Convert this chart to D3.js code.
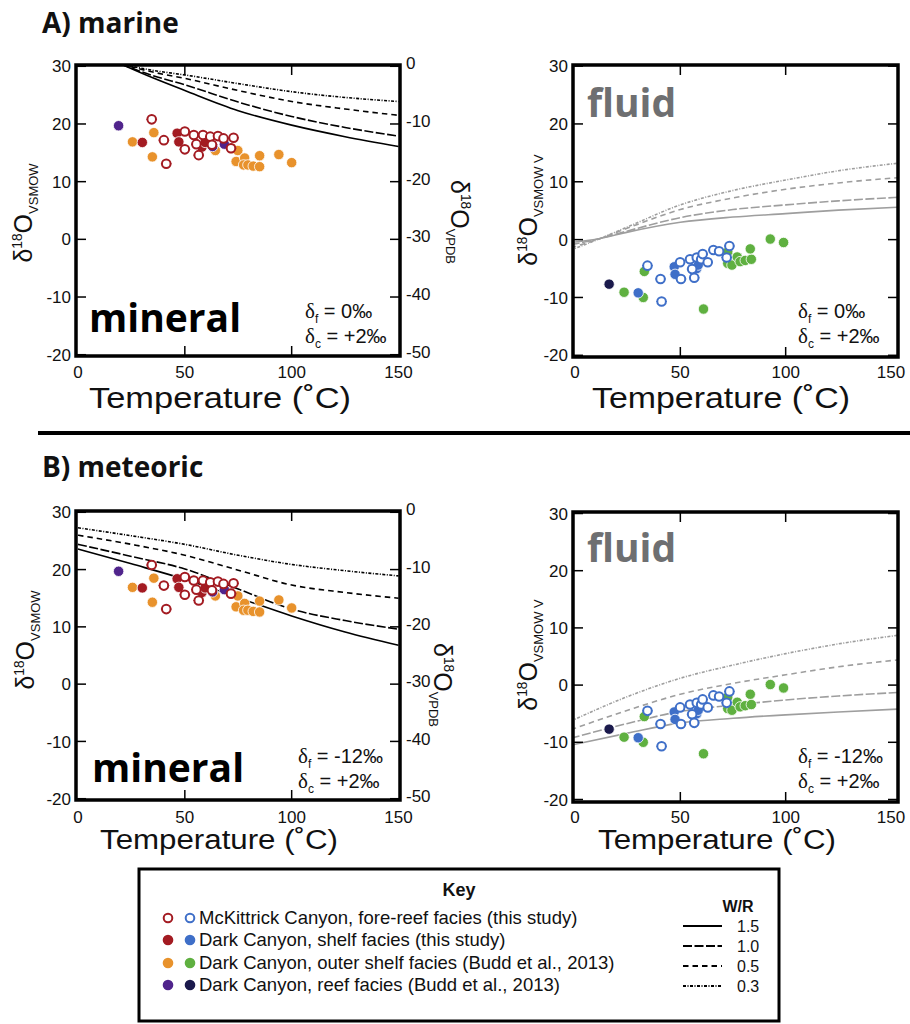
<!DOCTYPE html>
<html><head><meta charset="utf-8">
<script src="https://cdn.jsdelivr.net/npm/d3@7"></script>
<style>body{margin:0;background:#fff} svg{display:block} text{font-family:"Liberation Sans",Arial,sans-serif;fill:#111}</style>
</head><body><svg id="c" width="910" height="1024"></svg>
<script>
// ---------- data ----------
const temperatureTicks = [0, 50, 100, 150];
const vsmowTicks = [-20, -10, 0, 10, 20, 30];
const vpdbTicks = [-50, -40, -30, -20, -10, 0];
const tempError = 2.5;

// mineral δ18O (VSMOW) vs temperature (°C)
const mineralMcKittrick = [[34.5,20.8],[40.2,17.2],[41.3,13.1],[50,18.7],[50,15.6],[54.2,18.1],[55.4,16.5],[56.5,14.6],[58.5,18.1],[61.9,17.8],[62.7,16.4],[65.5,17.9],[68.1,17.5],[71.6,15.8],[72.8,17.6]];
const mineralDarkShelf = [[30.1,16.8],[46.4,18.4],[47.2,16.9],[58,16.0],[59.5,16.8]];
const mineralOuterShelf = [[25.5,16.9],[35.5,18.5],[34.8,14.3],[64.3,15.4],[72,15.8],[74.8,15.4],[74,13.5],[78,14.1],[77.5,12.9],[79.5,12.9],[82,12.7],[85,14.5],[85,12.6],[94,14.7],[100,13.3]];
const mineralReef = [[19,19.7],[63,16.1],[68.5,16.5]];

// fluid δ18O (VSMOW) vs temperature (°C)
const fluidMcKittrick = [[34.4,-4.5],[40.6,-6.8],[41.1,-10.7],[49.9,-3.9],[50.3,-6.8],[54.6,-3.4],[55.6,-5.1],[56.6,-6.6],[57.8,-3.1],[59.9,-3.4],[60.6,-2.5],[63,-3.9],[65.7,-1.8],[68.4,-2.0],[72,-3.1],[73.3,-1.1]];
const fluidDarkShelf = [[30,-9.2],[47.1,-4.7],[47.5,-6.0],[57.8,-5.0],[58.5,-4.4]];
const fluidOuterShelf = [[23.3,-9.1],[32.9,-5.5],[32.4,-10.0],[61,-12.0],[72.5,-4.1],[72.5,-2.1],[74.5,-4.4],[77,-3.0],[78.4,-3.8],[80.8,-3.6],[83.7,-3.4],[83.2,-1.6],[92.7,0.1],[99,-0.5]];
const fluidReef = [[16.2,-7.7]];

// W/R model curves
const wrLabels = ["1.5", "1.0", "0.5", "0.3"];
const marineMineralWR15 = [[20,30.4],[35,28.0],[50,25.8],[75,22.3],[100,19.8],[125,17.8],[150,16.1]];
const marineMineralWR10 = [[20,30.4],[35,28.4],[50,26.8],[75,23.8],[100,21.3],[125,19.4],[150,17.9]];
const marineMineralWR05 = [[20,30.4],[35,29.0],[50,27.9],[75,25.8],[100,23.9],[125,22.6],[150,21.5]];
const marineMineralWR03 = [[20,30.4],[35,29.3],[50,28.5],[75,27.0],[100,25.6],[125,24.6],[150,23.9]];

const marineFluidWR15 = [[-2,-0.5],[12,0.2],[25,1.3],[50,3.0],[75,3.9],[100,4.5],[125,5.1],[153,5.6]];
const marineFluidWR10 = [[-2,-0.9],[12,0.2],[25,1.5],[50,3.8],[75,5.2],[100,6.0],[125,6.7],[153,7.3]];
const marineFluidWR05 = [[-2,-1.4],[12,0.2],[25,2.0],[50,5.2],[75,7.2],[100,8.7],[125,9.8],[153,10.7]];
const marineFluidWR03 = [[-2,-1.8],[12,0.2],[25,2.2],[50,6.0],[75,8.5],[100,10.3],[125,11.9],[153,13.2]];

const meteoricMineralWR15 = [[0,23.6],[25,21.0],[50,18.3],[75,15.1],[100,11.9],[125,9.1],[150,6.8]];
const meteoricMineralWR10 = [[0,24.4],[25,22.3],[50,20.1],[75,16.6],[100,13.1],[125,11.1],[150,9.6]];
const meteoricMineralWR05 = [[0,26.0],[25,24.4],[50,22.5],[75,19.9],[100,17.3],[125,16.0],[150,15.0]];
const meteoricMineralWR03 = [[0,27.3],[25,25.9],[50,24.4],[75,22.5],[100,20.9],[125,19.8],[150,18.9]];

const meteoricFluidWR15 = [[-2,-10.5],[25,-8.4],[50,-6.6],[75,-5.8],[100,-5.2],[125,-4.7],[153,-4.2]];
const meteoricFluidWR10 = [[-2,-9.3],[25,-6.7],[50,-4.6],[75,-3.5],[100,-2.6],[125,-1.9],[153,-1.3]];
const meteoricFluidWR05 = [[-2,-7.8],[25,-4.4],[50,-1.6],[75,0.3],[100,1.8],[125,3.2],[153,4.4]];
const meteoricFluidWR03 = [[-2,-6.3],[25,-2.0],[50,1.2],[75,3.5],[100,5.5],[125,7.2],[153,8.7]];

const legendLabels = ["McKittrick Canyon, fore-reef facies (this study)","Dark Canyon, shelf facies (this study)","Dark Canyon, outer shelf facies (Budd et al., 2013)","Dark Canyon, reef facies (Budd et al., 2013)"];

// ---------- styles ----------
const dashes = [null, "9,2.5", "5.5,4", "3,1.5,1,1.5"];
const mineralColors = {open:"#a31b22", shelf:"#a31b22", outer:"#e8922c", reef:"#50248c"};
const fluidColors = {open:"#3f6fc8", shelf:"#3f6fc8", outer:"#5fb040", reef:"#1b1a4c"};

const svg = d3.select("#c");

function sub(t, parts) {
  parts.forEach(p => {
    const ts = t.append("tspan").text(p.t).style("font-size", p.fs + "px");
    if (p.dy) ts.attr("dy", p.dy);
    if (p.ff) ts.style("font-family", p.ff);
  });
}

function panel(cfg) {
  const g = svg.append("g");
  const x = d3.scaleLinear().domain([0,150]).range([cfg.fx0 + 2, cfg.fx1 - cfg.xpad]);
  const y = d3.scaleLinear().domain([-20,30]).range([cfg.yb, cfg.yt]);
  const id = "clip" + cfg.id;
  g.append("clipPath").attr("id", id).append("rect")
    .attr("x", cfg.fx0).attr("y", cfg.fy0).attr("width", cfg.fx1 - cfg.fx0).attr("height", cfg.fy1 - cfg.fy0);
  const plot = g.append("g").attr("clip-path", `url(#${id})`);
  const line = d3.line().x(d => x(d[0])).y(d => y(d[1])).curve(d3.curveMonotoneX);
  cfg.curves.forEach((c, i) => {
    plot.append("path").attr("d", line(c)).attr("fill", "none")
      .attr("stroke", cfg.lineColor).attr("stroke-width", 1.6)
      .attr("stroke-dasharray", dashes[i]);
  });
  const pts = cfg.points;
  const col = cfg.colors;
  const filled = (data, c) => plot.selectAll(null).data(data).enter().append("circle")
    .attr("cx", d => x(d[0])).attr("cy", d => y(d[1])).attr("r", 5.2)
    .attr("fill", c).attr("stroke", "#fff").attr("stroke-width", 0.8);
  filled(pts.outer, col.outer);
  filled(pts.reef, col.reef);
  filled(pts.shelf, col.shelf);
  plot.selectAll(null).data(pts.open).enter().append("line")
    .attr("x1", d => x(d[0] - tempError)).attr("x2", d => x(d[0] + tempError))
    .attr("y1", d => y(d[1])).attr("y2", d => y(d[1]))
    .attr("stroke", col.open).attr("stroke-width", 1);
  plot.selectAll(null).data(pts.open).enter().append("circle")
    .attr("cx", d => x(d[0])).attr("cy", d => y(d[1])).attr("r", 4.3)
    .attr("fill", "#fff").attr("stroke", col.open).attr("stroke-width", 2);

  g.append("rect").attr("x", cfg.fx0).attr("y", cfg.fy0)
    .attr("width", cfg.fx1 - cfg.fx0).attr("height", cfg.fy1 - cfg.fy0)
    .attr("fill", "none").attr("stroke", "#000").attr("stroke-width", 3.5);
  const tl = 10;
  vsmowTicks.forEach(v => {
    g.append("line").attr("x1", cfg.fx0).attr("x2", cfg.fx0 + tl).attr("y1", y(v)).attr("y2", y(v)).attr("stroke", "#000").attr("stroke-width", 1.5);
    g.append("line").attr("x1", cfg.fx1).attr("x2", cfg.fx1 - tl).attr("y1", y(v)).attr("y2", y(v)).attr("stroke", "#000").attr("stroke-width", 1.5);
    g.append("text").attr("x", cfg.fx0 - 5).attr("y", y(v)).attr("dy", "0.36em")
      .attr("text-anchor", "end").style("font-size", "17px").text(v);
  });
  temperatureTicks.filter(t => t > 0 && t < 150).forEach(t => {
    g.append("line").attr("x1", x(t)).attr("x2", x(t)).attr("y1", cfg.fy0).attr("y2", cfg.fy0 + tl).attr("stroke", "#000").attr("stroke-width", 1.5);
    g.append("line").attr("x1", x(t)).attr("x2", x(t)).attr("y1", cfg.fy1).attr("y2", cfg.fy1 - tl).attr("stroke", "#000").attr("stroke-width", 1.5);
  });
  temperatureTicks.forEach(t => {
    g.append("text").attr("x", x(t)).attr("y", cfg.xLabY).attr("text-anchor", "middle")
      .style("font-size", "17px").text(t);
  });
  if (cfg.vpdb) {
    const y2 = d3.scaleLinear().domain([-50,0]).range([cfg.yb, cfg.yt]);
    vpdbTicks.forEach(v => {
      g.append("text").attr("x", cfg.fx1 + 6).attr("y", y2(v) - 3).attr("dy", "0.36em")
        .style("font-size", "17px").text(v);
    });
    const t = g.append("text").attr("transform", `translate(${cfg.rLab[0]},${cfg.rLab[1]}) rotate(90)`)
      .attr("text-anchor", "middle");
    sub(t, [{t:"δ", fs:cfg.labFs}, {t:"18", fs:cfg.labFs*0.55, dy:-cfg.labFs*0.4}, {t:"O", fs:cfg.labFs, dy:cfg.labFs*0.4}, {t:"VPDB", fs:cfg.labFs*0.52, dy:cfg.labFs*0.22}]);
  }
  const lt = g.append("text").attr("transform", `translate(${cfg.lLab[0]},${cfg.lLab[1]}) rotate(-90)`)
    .attr("text-anchor", "middle");
  sub(lt, [{t:"δ", fs:cfg.labFs}, {t:"18", fs:cfg.labFs*0.55, dy:-cfg.labFs*0.4}, {t:"O", fs:cfg.labFs, dy:cfg.labFs*0.4}, {t:cfg.vsmowSub, fs:cfg.labFs*0.52, dy:cfg.labFs*0.22}]);
  g.append("text").attr("x", cfg.xTitle[0]).attr("y", cfg.xTitle[1]).attr("text-anchor", "middle")
    .attr("textLength", cfg.xTitleW).attr("lengthAdjust", "spacingAndGlyphs")
    .style("font-size", cfg.xTitleFs + "px").text("Temperature (˚C)");
  g.append("text").attr("x", cfg.word[0]).attr("y", cfg.word[1])
    .style("font-family", "'Open Sans',sans-serif").style("font-weight", "bold")
    .style("font-size", "39px").style("fill", cfg.wordColor).text(cfg.wordText);
  const a1 = g.append("text").attr("x", cfg.ann[0]).attr("y", cfg.ann[1]).style("font-size", "20px");
  sub(a1, [{t:"δ", fs:21, ff:"'Liberation Serif',serif"}, {t:"f", fs:12, dy:5}, {t:" = " + cfg.df, fs:20, dy:-5}]);
  const a2 = g.append("text").attr("x", cfg.ann[0]).attr("y", cfg.ann[1] + 25).style("font-size", "20px");
  sub(a2, [{t:"δ", fs:21, ff:"'Liberation Serif',serif"}, {t:"c", fs:12, dy:5}, {t:" = +2‰", fs:20, dy:-5}]);
}

const mineralPts = {open: mineralMcKittrick, shelf: mineralDarkShelf, outer: mineralOuterShelf, reef: mineralReef};
const fluidPts = {open: fluidMcKittrick, shelf: fluidDarkShelf, outer: fluidOuterShelf, reef: fluidReef};

panel({id:"tl", fx0:76, fx1:400, fy0:65, fy1:356, xpad:1.5, yt:66.3, yb:354.7, xLabY:378,
  curves:[marineMineralWR15, marineMineralWR10, marineMineralWR05, marineMineralWR03], lineColor:"#000",
  points:mineralPts, colors:mineralColors, vpdb:true, rLab:[451,222], lLab:[32,213], labFs:25, vsmowSub:"VSMOW",
  xTitle:[220,408], xTitleFs:29, xTitleW:262, word:[89,332], wordText:"mineral", wordColor:"#000", ann:[305,318], df:"0‰"});
panel({id:"tr", fx0:573, fx1:898, fy0:65, fy1:357, xpad:7, yt:66.1, yb:355.3, xLabY:378,
  curves:[marineFluidWR15, marineFluidWR10, marineFluidWR05, marineFluidWR03], lineColor:"#9e9e9e",
  points:fluidPts, colors:fluidColors, vpdb:false, lLab:[537,210], labFs:25, vsmowSub:"VSMOW  V",
  xTitle:[721,408], xTitleFs:29, xTitleW:258, word:[587,117], wordText:"fluid", wordColor:"#6e6f71", ann:[798,318], df:"0‰"});
panel({id:"bl", fx0:76, fx1:400, fy0:511, fy1:800, xpad:1.5, yt:512.3, yb:798.7, xLabY:823,
  curves:[meteoricMineralWR15, meteoricMineralWR10, meteoricMineralWR05, meteoricMineralWR03], lineColor:"#000",
  points:mineralPts, colors:mineralColors, vpdb:true, rLab:[434,685], lLab:[34,640], labFs:25, vsmowSub:"VSMOW",
  xTitle:[219,849], xTitleFs:27, xTitleW:238, word:[92,782], wordText:"mineral", wordColor:"#000", ann:[298,763], df:"-12‰"});
panel({id:"br", fx0:573, fx1:898, fy0:512, fy1:802, xpad:7, yt:513.5, yb:799.5, xLabY:823,
  curves:[meteoricFluidWR15, meteoricFluidWR10, meteoricFluidWR05, meteoricFluidWR03], lineColor:"#9e9e9e",
  points:fluidPts, colors:fluidColors, vpdb:false, lLab:[537,655], labFs:25, vsmowSub:"VSMOW  V",
  xTitle:[717,849], xTitleFs:27, xTitleW:238, word:[587,562], wordText:"fluid", wordColor:"#6e6f71", ann:[798,763], df:"-12‰"});

svg.append("text").attr("x", 42).attr("y", 33).style("font-family", "'Open Sans',sans-serif")
  .style("font-weight", "bold").style("font-size", "28px").text("A) marine");
svg.append("text").attr("x", 42).attr("y", 477).style("font-family", "'Open Sans',sans-serif")
  .style("font-weight", "bold").style("font-size", "28px").text("B) meteoric");
svg.append("line").attr("x1", 38).attr("x2", 910).attr("y1", 433).attr("y2", 433).attr("stroke", "#000").attr("stroke-width", 4);

// legend
const lg = svg.append("g");
lg.append("rect").attr("x", 139).attr("y", 869).attr("width", 640).attr("height", 152)
  .attr("fill", "#fff").attr("stroke", "#000").attr("stroke-width", 3);
lg.append("text").attr("x", 459).attr("y", 896).attr("text-anchor", "middle")
  .style("font-weight", "bold").style("font-size", "18px").text("Key");
const rowY = [918, 940, 963, 985];
const keys = ["open", "shelf", "outer", "reef"];
legendLabels.forEach((lab, i) => {
  const k = keys[i];
  [[168, mineralColors[k]], [190, fluidColors[k]]].forEach(([cx, c]) => {
    lg.append("circle").attr("cx", cx).attr("cy", rowY[i]).attr("r", k === "open" ? 4.3 : 5.3)
      .attr("fill", k === "open" ? "#fff" : c).attr("stroke", k === "open" ? c : "none").attr("stroke-width", 2);
  });
  lg.append("text").attr("x", 199).attr("y", rowY[i] + 6).style("font-size", "18.5px").text(lab);
});
lg.append("text").attr("x", 738).attr("y", 912).attr("text-anchor", "middle")
  .style("font-weight", "bold").style("font-size", "16px").text("W/R");
const wrY = [926, 946, 966, 986];
wrLabels.forEach((w, i) => {
  lg.append("line").attr("x1", 683).attr("x2", 722).attr("y1", wrY[i]).attr("y2", wrY[i])
    .attr("stroke", "#000").attr("stroke-width", 2).attr("stroke-dasharray", dashes[i]);
  lg.append("text").attr("x", 737).attr("y", wrY[i] + 6).style("font-size", "16px").text(w);
});
</script></body></html>
